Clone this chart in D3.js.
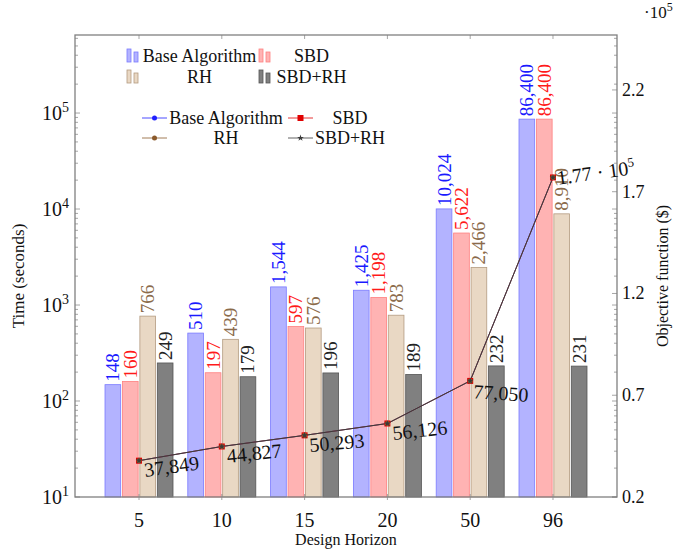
<!DOCTYPE html>
<html>
<head>
<meta charset="utf-8">
<script src="https://cdn.jsdelivr.net/npm/d3@7"></script>
<style>
  body { margin: 0; background: #fff; }
  svg text { font-family: "Liberation Serif", "Times New Roman", serif; }
</style>
</head>
<body>
<div id="chart"></div>
<script>
// data
const horizons = ['5', '10', '15', '20', '50', '96']
const seriesNames = ['Base Algorithm', 'SBD', 'RH', 'SBD+RH']
const baseTime = [148, 510, 1544, 1425, 10024, 86400]
const sbdTime = [160, 197, 597, 1198, 5622, 86400]
const rhTime = [766, 439, 576, 783, 2466, 8910]
const sbdRhTime = [249, 179, 196, 189, 232, 231]
const objective = [37849, 44827, 50293, 56126, 77050, 177000]
const logTicks = [10, 100, 1000, 10000, 100000]
const objTicks = [20000, 70000, 120000, 170000, 220000]

// styles
const barFill = ['#b3b3ff', '#ffb3b3', '#e9d8c4', '#808080']
const barStroke = ['#7a7aff', '#ff8080', '#b39b80', '#555555']
const labelColor = ['#1a1aff', '#ff1a1a', '#8b6b4b', '#222222']
const lineColor = ['#2020ff', '#e00000', '#8b5a2b', '#3a3a3a']
const lineWidth = [0.5, 0.5, 0.5, 1]
const pointRot = [-8, -6, -5, -6, 4, -8]

const W = 673, H = 550
const pLeft = 75, pRight = 617, pTop = 35, pBottom = 497

const svg = d3.select('#chart').append('svg')
  .attr('width', W).attr('height', H)

const times = [baseTime, sbdTime, rhTime, sbdRhTime]

let x = d3.scaleBand().domain(horizons).range([pLeft, pRight])
  .paddingInner(0).paddingOuter(0.273)
let xSub = d3.scaleBand().domain(seriesNames).range([-34, 34]).paddingInner(0.1)
let yL = d3.scaleLog().domain([10, 6.5e5]).range([pBottom, pTop])
let yR = d3.scaleLinear().domain([20000, 247000]).range([pBottom, pTop])

let cx = (h) => x(h) + x.bandwidth() / 2

// bars
let bars = svg.append('g').attr('class', 'bars')
times.forEach((vals, si) => {
  bars.selectAll('.bar' + si)
    .data(vals)
    .enter().append('rect')
    .attr('class', 'bar' + si)
    .attr('x', (d, i) => cx(horizons[i]) + xSub(seriesNames[si]))
    .attr('width', xSub.bandwidth())
    .attr('y', d => yL(d))
    .attr('height', d => yL(10) - yL(d))
    .attr('fill', barFill[si])
    .attr('stroke', barStroke[si])
    .attr('stroke-width', 0.8)
})

// bar value labels
let fmt = d3.format(',')
times.forEach((vals, si) => {
  bars.selectAll('.lab' + si)
    .data(vals)
    .enter().append('text')
    .attr('class', 'lab' + si)
    .attr('transform', (d, i) => {
      let bx = cx(horizons[i]) + xSub(seriesNames[si]) + xSub.bandwidth() / 2
      return `translate(${bx},${yL(d) - 3}) rotate(-90)`
    })
    .attr('dy', '0.34em')
    .attr('font-size', 19)
    .attr('fill', labelColor[si])
    .text(d => fmt(d))
})

// frame
let frame = svg.append('g').attr('stroke', '#808080').attr('fill', 'none')
frame.append('rect')
  .attr('x', pLeft).attr('y', pTop)
  .attr('width', pRight - pLeft).attr('height', pBottom - pTop)
  .attr('stroke-width', 1.3)

// left log ticks (mirrored on the right)
let minor = yL.ticks().filter(t => !logTicks.includes(t))
frame.selectAll('.minor').data(minor).enter().append('path')
  .attr('d', d => `M${pLeft},${yL(d)}h3M${pRight},${yL(d)}h-3`)
  .attr('stroke-width', 0.7)
frame.selectAll('.major').data(logTicks).enter().append('path')
  .attr('d', d => `M${pLeft},${yL(d)}h5M${pRight},${yL(d)}h-5`)
  .attr('stroke-width', 0.7)

// right linear ticks
frame.selectAll('.rtick').data(objTicks).enter().append('path')
  .attr('d', d => `M${pRight},${yR(d)}h-5`)
  .attr('stroke-width', 0.7)

// x ticks
frame.selectAll('.xtick').data(horizons).enter().append('path')
  .attr('d', d => `M${cx(d)},${pBottom - 3}v6M${cx(d)},${pTop}v4`)
  .attr('stroke-width', 0.7)

// tick labels
let ylab = svg.append('g').attr('font-size', 20).attr('fill', '#111')
ylab.selectAll('text').data(logTicks).enter().append('text')
  .attr('x', pLeft - 6).attr('y', d => yL(d) + 7)
  .attr('text-anchor', 'end')
  .each(function (d) {
    let t = d3.select(this)
    t.append('tspan').text('10')
    t.append('tspan').attr('font-size', 14).attr('dy', -8).text(Math.round(Math.log10(d)))
  })

svg.append('g').attr('font-size', 18).attr('fill', '#111')
  .selectAll('text').data(objTicks).enter().append('text')
  .attr('x', pRight + 5).attr('y', d => yR(d) + 6)
  .text(d => (d / 1e5).toFixed(1))

svg.append('text')
  .attr('x', 644).attr('y', 18).attr('font-size', 17).attr('fill', '#111')
  .each(function () {
    let t = d3.select(this)
    t.append('tspan').text('·10')
    t.append('tspan').attr('font-size', 12).attr('dy', -7).text('5')
  })

svg.append('g').attr('font-size', 20).attr('fill', '#111')
  .selectAll('text').data(horizons).enter().append('text')
  .attr('x', d => cx(d)).attr('y', 527)
  .attr('text-anchor', 'middle')
  .text(d => d)

// axis titles
svg.append('text')
  .attr('x', (pLeft + pRight) / 2).attr('y', 545)
  .attr('text-anchor', 'middle').attr('font-size', 16).attr('fill', '#111')
  .text('Design Horizon')

svg.append('text')
  .attr('transform', `translate(24,276) rotate(-90)`)
  .attr('text-anchor', 'middle').attr('font-size', 17).attr('fill', '#111')
  .text('Time (seconds)')

svg.append('text')
  .attr('transform', `translate(668,276) rotate(-90)`)
  .attr('text-anchor', 'middle').attr('font-size', 16).attr('fill', '#111')
  .text('Objective function ($)')

// markers
function marker(g, si, px, py) {
  if (si == 0 || si == 2) {
    g.append('circle').attr('cx', px).attr('cy', py).attr('r', 2.5).attr('fill', lineColor[si])
  } else if (si == 1) {
    g.append('rect').attr('x', px - 3).attr('y', py - 3).attr('width', 6).attr('height', 6)
      .attr('fill', lineColor[si])
  } else {
    g.append('path').attr('d', d3.symbol(d3.symbolStar, 14)())
      .attr('transform', `translate(${px},${py})`)
      .attr('fill', lineColor[si])
  }
}

// objective lines (all four series share the same values)
let lineG = svg.append('g')
let line = d3.line().x((d, i) => cx(horizons[i])).y(d => yR(d))
seriesNames.forEach((s, si) => {
  lineG.append('path').datum(objective)
    .attr('d', line).attr('fill', 'none')
    .attr('stroke', lineColor[si]).attr('stroke-width', lineWidth[si])
})
seriesNames.forEach((s, si) => {
  objective.forEach((v, i) => marker(lineG, si, cx(horizons[i]), yR(v)))
})

// point labels
lineG.selectAll('.plab').data(objective).enter().append('text')
  .attr('class', 'plab')
  .attr('transform', (d, i) => `translate(${cx(horizons[i])},${yR(d)}) rotate(${pointRot[i]})`)
  .attr('x', 4).attr('y', 17)
  .attr('font-size', 20).attr('fill', '#111')
  .each(function (d, i) {
    let t = d3.select(this)
    if (d >= 1e5) {
      d3.select(this).attr('y', 8)
      t.append('tspan').text((d / 1e5).toFixed(2) + ' · 10')
      t.append('tspan').attr('font-size', 13).attr('dy', -8).text('5')
    } else {
      t.text(fmt(d))
    }
  })

// bar legend
let leg1 = svg.append('g').attr('font-size', 18).attr('fill', '#111')
let leg1Pos = [[127, 56, 199.5], [259, 56, 311.5], [127, 77, 199.5], [259, 77, 311.5]]
seriesNames.forEach((s, si) => {
  let [lx, ly, tx] = leg1Pos[si]
  leg1.append('rect').attr('x', lx).attr('y', ly - 7).attr('width', 4).attr('height', 13)
    .attr('fill', barFill[si]).attr('stroke', barStroke[si]).attr('stroke-width', 0.8)
  leg1.append('rect').attr('x', lx + 7).attr('y', ly - 4).attr('width', 4).attr('height', 10)
    .attr('fill', barFill[si]).attr('stroke', barStroke[si]).attr('stroke-width', 0.8)
  leg1.append('text').attr('x', tx).attr('y', ly + 6)
    .attr('text-anchor', 'middle').text(s)
})

// line legend
let leg2 = svg.append('g').attr('font-size', 18).attr('fill', '#111')
let leg2Pos = [[142, 118, 226], [288, 118, 350], [142, 138, 226], [288, 138, 350]]
seriesNames.forEach((s, si) => {
  let [lx, ly, tx] = leg2Pos[si]
  leg2.append('path').attr('d', `M${lx},${ly}h25`)
    .attr('stroke', lineColor[si]).attr('stroke-width', 0.8)
  marker(leg2, si, lx + 12.5, ly)
  leg2.append('text').attr('x', tx).attr('y', ly + 6)
    .attr('text-anchor', 'middle').text(s)
})
</script>
</body>
</html>
